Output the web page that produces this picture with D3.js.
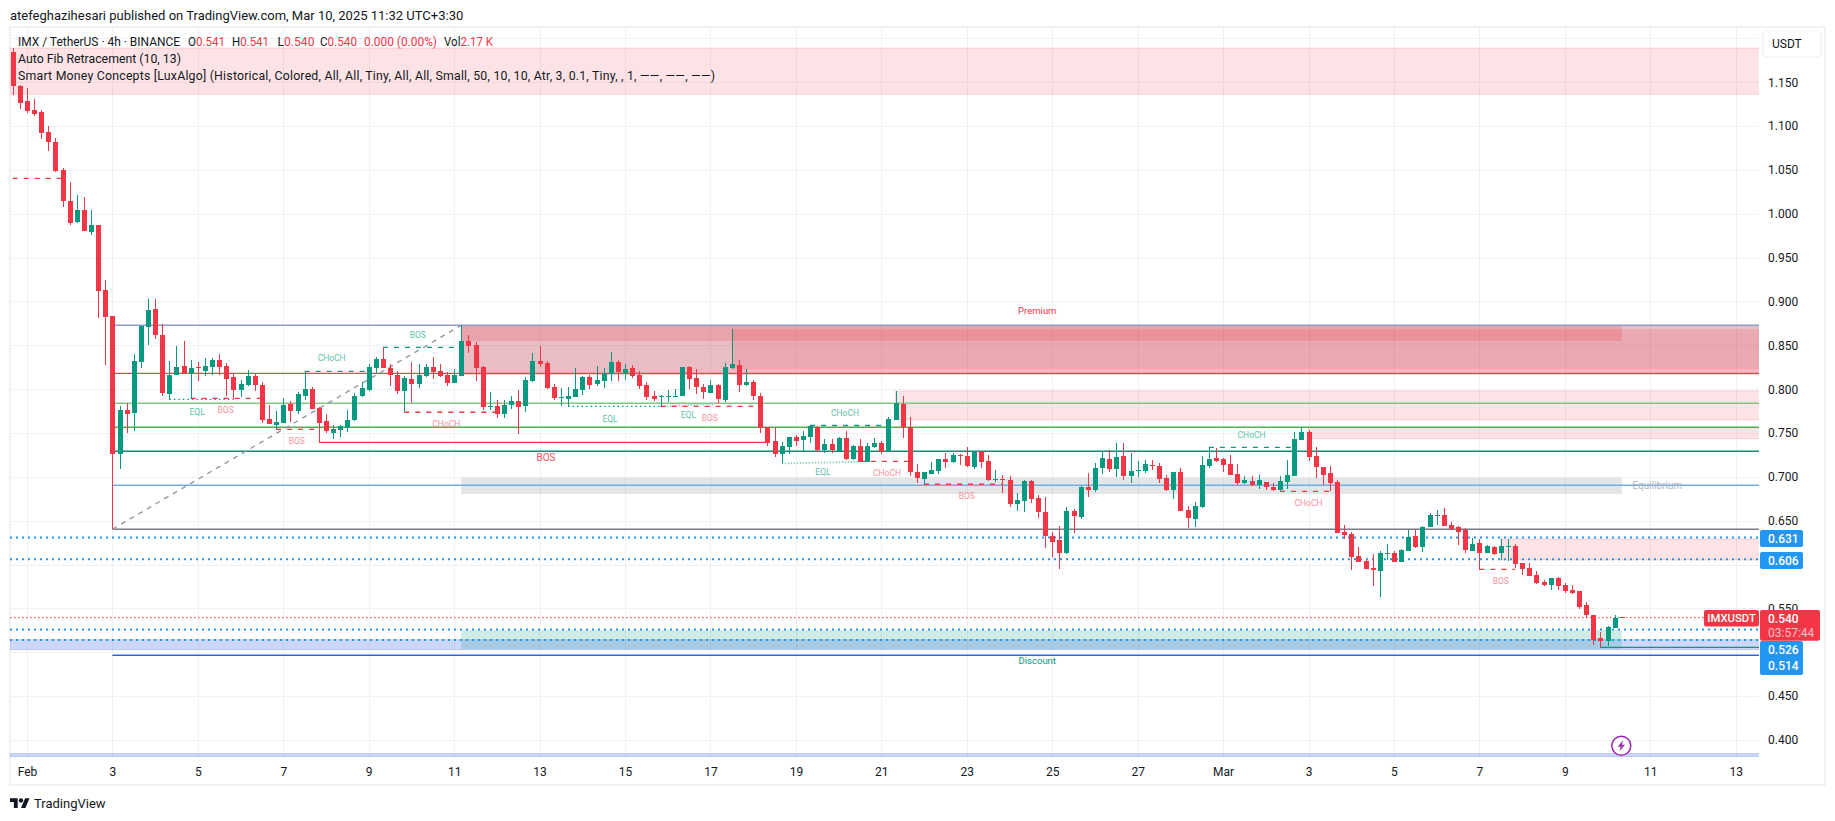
<!DOCTYPE html>
<html><head><meta charset="utf-8">
<style>html,body{margin:0;padding:0;background:#fff;overflow:hidden}svg{display:block;font-family:Roboto,sans-serif}</style>
<script src="https://cdn.jsdelivr.net/npm/d3@7"></script></head><body>
<svg id="c" width="1835" height="821"></svg>
<script>
// ---------- DATA (prices; bar index 0 = first 4h candle) ----------
const opens=[1.1841,1.1458,1.1287,1.1184,1.1161,1.0933,1.0819,1.0500,1.0147,.9911,1.0044,.9797,.9872,.9131,
.8835,.7265,.7763,.7733,.8314,.8713,.8914,.8618,.7945,.8162,.8265,.8181,.8253,.8208,.8253,.8333,.8265,.8139,.7991,.8048,.8151,.8048,.7660,.7592,.7615,.7831,.7752,.7923,.8002,.7786,.7638,.7501,.7535,.7558,.7649,.7923,.7991,.8242,.8344,.8242,.8162,.7980,.8116,.8059,.8151,.8253,.8208,.8162,.8071,.8151,.8550,.8504,.8253,
.7797,.7809,.7717,.7820,.7866,.7809,.8094,.8322,.8299,.8025,.7900,.7888,.7911,.7991,.8139,.8059,.8094,.8173,.8310,.8185,.8242,.8162,.8048,.7923,.7911,.7911,.7911,.7923,.8253,.8128,.8025,.7957,.8048,.7877,.8242,.8276,.8048,.8082,.7923,.7569,.7410,.7261,.7341,.7455,.7421,.7455,.7569,.7307,.7375,.7296,.7444,
.7204,.7353,.7170,.7341,.7387,.7284,.7649,.7831,.7569,.7056,.6976,.7033,.7068,.7204,.7170,.7250,.7239,.7113,.7296,.7182,.6965,.6976,.6965,.6691,.6726,.6954,.6760,.6600,.6327,.6281,.6133,.6612,.6543,.6885,.6851,.7102,.7204,.7090,.7239,.7011,.7068,.7068,.7136,.7125,.6988,.6851,.7056,.6623,.6520,.6657,.7125,.7216,.7204,.7147,
.7033,.6931,.6954,.6908,.6942,.6885,.6851,.6942,.7011,.7421,.7512,.7239,.7113,.7045,.6942,.6372,.6349,.6099,.6042,.5962,.5928,.6121,.6133,.6030,.6156,.6327,.6201,.6429,.6555,.6566,.6452,.6429,.6395,.6156,.6247,.6133,.6201,.6133,.6201,.6213,.6019,.5962,.5882,.5802,.5768,.5848,.5768,.5711,.5700,.5540,.5426,.5164,.5130,.5278,.5405];
const closes=[1.1458,1.1268,1.1176,1.1138,1.0926,1.0823,1.0489,1.0150,.9900,1.0044,.9808,.9873,.9120,.8823,
.7265,.7763,.7717,.8322,.8721,.8903,.8622,.7957,.8162,.8253,.8181,.8242,.8242,.8265,.8333,.8253,.8116,.7991,.8059,.8151,.8048,.7649,.7603,.7626,.7820,.7752,.7945,.8002,.7774,.7615,.7524,.7546,.7581,.7649,.7923,.8014,.8253,.8344,.8242,.8162,.7980,.8128,.8059,.8162,.8253,.8196,.8151,.8071,.8162,.8550,.8493,.8242,.7797,
.7809,.7717,.7820,.7866,.7797,.8105,.8322,.8287,.8014,.7900,.7911,.7923,.8002,.8139,.8048,.8105,.8185,.8310,.8196,.8230,.8151,.8037,.7911,.7888,.7923,.7923,.7923,.8253,.8116,.8025,.7968,.8048,.7888,.8253,.8287,.8048,.8082,.7923,.7558,.7387,.7261,.7353,.7455,.7410,.7467,.7581,.7307,.7375,.7307,.7444,.7204,
.7353,.7170,.7353,.7387,.7284,.7660,.7843,.7569,.7056,.6988,.7056,.7079,.7204,.7170,.7250,.7239,.7125,.7296,.7170,.6965,.6976,.6965,.6691,.6737,.6954,.6748,.6600,.6327,.6258,.6133,.6612,.6555,.6885,.6851,.7102,.7216,.7090,.7227,.7011,.7068,.7079,.7147,.7125,.6976,.6851,.7056,.6612,.6532,.6669,.7136,.7204,.7182,.7136,.7022,
.6931,.6965,.6908,.6965,.6885,.6851,.6954,.7022,.7432,.7512,.7227,.7113,.7022,.6931,.6361,.6338,.6087,.6030,.5950,.5939,.6133,.6133,.6030,.6167,.6315,.6201,.6429,.6566,.6566,.6441,.6406,.6372,.6167,.6235,.6133,.6213,.6121,.6213,.6213,.6007,.5950,.5871,.5791,.5768,.5848,.5757,.5700,.5677,.5517,.5426,.5141,.5130,.5289,.5392,.5395];
const highs=[1.1887,1.1469,1.1431,1.1309,1.1184,1.1002,1.0865,1.0519,1.0363,1.0215,1.0192,1.0044,.9872,.9245,
.8835,.7809,.7839,.8398,.8721,.9028,.9028,.8743,.8322,.8493,.8550,.8333,.8310,.8356,.8356,.8401,.8299,.8173,.8105,.8219,.8173,.8082,.7820,.7752,.7900,.7866,.7968,.8208,.8025,.7797,.7717,.7592,.7592,.7763,.7957,.8082,.8287,.8367,.8481,.8287,.8208,.8151,.8310,.8287,.8287,.8367,.8287,.8196,.8230,.8728,.8618,.8538,.8265,
.7968,.7877,.7877,.7923,.7991,.8139,.8413,.8493,.8322,.8059,.8014,.8025,.8242,.8151,.8162,.8265,.8242,.8424,.8333,.8287,.8276,.8208,.8082,.7980,.7934,.7991,.8002,.8253,.8265,.8230,.8059,.8105,.8059,.8299,.8686,.8333,.8230,.8105,.7957,.7569,.7569,.7398,.7455,.7478,.7524,.7592,.7581,.7432,.7432,.7455,.7524,
.7364,.7432,.7387,.7444,.7410,.7683,.7980,.7923,.7683,.7147,.7056,.7170,.7204,.7273,.7273,.7261,.7341,.7296,.7296,.7250,.7079,.7022,.7011,.6817,.6965,.6965,.6794,.6771,.6372,.6441,.6657,.6634,.6897,.7045,.7159,.7296,.7307,.7387,.7387,.7273,.7182,.7193,.7193,.7159,.7022,.7056,.7102,.6669,.6714,.7239,.7341,.7330,.7216,.7250,
.7147,.7011,.7011,.7022,.6942,.6931,.7011,.7193,.7512,.7569,.7535,.7341,.7113,.7125,.6965,.6452,.6372,.6201,.6053,.6121,.6156,.6235,.6156,.6178,.6395,.6395,.6441,.6589,.6623,.6646,.6486,.6441,.6418,.6304,.6292,.6224,.6213,.6292,.6292,.6235,.6019,.6019,.5928,.5825,.5848,.5859,.5791,.5768,.5700,.5574,.5426,.5232,.5301,.5426,.5405];
const lows=[1.1355,1.1199,1.1146,1.1119,1.0850,1.0720,1.0481,1.0082,.9873,.9900,.9808,.9759,.8812,.8276,
.6403,.7094,.7505,.7527,.8246,.8508,.8576,.7926,.7881,.8162,.8170,.7888,.8094,.8151,.8162,.8162,.7923,.7888,.7911,.8037,.7980,.7615,.7603,.7546,.7615,.7626,.7717,.7877,.7774,.7394,.7501,.7432,.7455,.7512,.7638,.7911,.7980,.8185,.8242,.8037,.7945,.7736,.7843,.8014,.8139,.8116,.8139,.8037,.8071,.8151,.8413,.8094,.7763,
.7763,.7672,.7672,.7774,.7489,.7740,.8082,.8253,.8002,.7877,.7809,.7797,.7911,.7934,.8002,.8037,.8014,.8094,.8094,.8105,.8128,.8002,.7877,.7866,.7809,.7854,.7911,.7923,.8002,.7945,.7888,.7957,.7843,.7854,.8230,.7968,.8037,.7877,.7501,.7353,.7227,.7155,.7261,.7353,.7296,.7387,.7296,.7273,.7273,.7296,.7193,
.7193,.7170,.7170,.7330,.7261,.7284,.7649,.7444,.7011,.6931,.6908,.7033,.7033,.7102,.7159,.7136,.7113,.7090,.7102,.6954,.6942,.6817,.6657,.6612,.6600,.6703,.6532,.6190,.6087,.5950,.6121,.6361,.6520,.6771,.6828,.7033,.7056,.7000,.6965,.6931,.7000,.7045,.7079,.6931,.6840,.6748,.6612,.6418,.6429,.6646,.7102,.7170,.7056,.7022,
.6908,.6919,.6897,.6862,.6851,.6840,.6840,.6862,.7011,.7421,.7182,.6988,.6908,.6840,.6361,.6292,.5939,.6030,.5950,.5757,.5631,.6053,.6030,.6030,.6156,.6190,.6144,.6429,.6452,.6441,.6395,.6224,.6133,.6156,.5939,.6133,.6110,.6053,.6042,.5962,.5882,.5871,.5779,.5757,.5711,.5711,.5677,.5665,.5494,.5392,.5084,.5054,.5073,.5278,.5395];

const gridPrices=[1.2,1.15,1.1,1.05,1,.95,.9,.85,.8,.75,.7,.65,.6,.55,.5,.45,.4];
const priceTicks=[1.15,1.1,1.05,1,.95,.9,.85,.8,.75,.7,.65,.55,.45,.4];
const timeTickBars=d3.range(2,243,12);              // every two days, first one on Feb 1
const timeTickLabels=["Feb","3","5","7","9","11","13","15","17","19","21","23","25","27","Mar","3","5","7","9","11","13"];

// Fib levels drawn from the swing low bar to the right edge
const fibStart=14;
const fibPrices=[.8729,.8181,.7839,.7566,.7292,.6904,.6403,.4966];
// Trend line of the fib tool: [bar, price] pairs
const fibTrend=[[14,.6403],[63,.8729]];

// Zones: [fromBar|null, toBar|null, top, bottom, kind]  (null = pane edge)
const zones=[
 [null,null,1.1890,1.1363,"pink"],
 [63,null,.8729,.8165,"base"],
 [63,226,.8729,.8550,"premium"],
 [101,null,.8684,.8228,"overlay"],
 [124,null,.7979,.7652,"pink"],
 [182,null,.7566,.7437,"pink"],
 [209,null,.6292,.6053,"pink"],
 [63,226,.6991,.6805,"equil"],
 [null,null,.5144,.5030,"blue"],
 [63,226,.5254,.5038,"discount"],
 [null,null,.3845,.3806,"blue"]
];
// Structure lines: [fromBar,toBar,priceFrom,priceTo,kind]
const structure=[
 [0,7,1.0404,1.0404,"rd"],
 [22,31,.7885,.7885,"gdot"],
 [25,35,.7896,.7896,"rd"],
 [37,43,.7543,.7543,"rd"],
 [41,50,.8204,.8204,"gd"],
 [52,63,.8478,.8478,"gd"],
 [55,68,.7737,.7737,"rd"],
 [43,106,.7394,.7394,"rs"],
 [78,91,.7805,.7805,"gdot"],
 [91,98.6,.7805,.7831,"glight"],
 [91,104,.7805,.7805,"rd"],
 [112,123,.7586,.7586,"gd"],
 [108,119.4,.7154,.7173,"glight"],
 [119,126,.7178,.7178,"rd"],
 [128,139,.6916,.6916,"rd"],
 [168,180,.7337,.7337,"gd"],
 [178,185,.6836,.6836,"rd"],
 [206,211,.5946,.5946,"rd"],
 [223,245.3,.5056,.5056,"gs"]
];
// Structure text: [text,bar,price,kind]
const structLabels=[
 ["EQL",25.9,.7744,"g"],["BOS",29.9,.7763,"r"],["BOS",39.9,.7406,"r"],["CHoCH",44.8,.8356,"g"],
 ["BOS",56.9,.8614,"g"],["CHoCH",60.9,.76,"r"],["EQL",83.9,.7664,"g"],["EQL",94.9,.7709,"g"],
 ["BOS",97.9,.7668,"r"],["CHoCH",116.9,.7725,"g"],["EQL",113.8,.7052,"g"],["CHoCH",122.8,.7048,"r"],
 ["BOS",134,.6779,"r"],["CHoCH",174,.7474,"g"],["CHoCH",182,.6699,"r"],["BOS",209,.581,"r"],
 ["BOS",74.9,.7219,"R"],["Premium",143.9,.8898,"P"],["Discount",143.9,.4901,"D"],["Equilibrium",231,.69,"E"]
];
const dottedPrices=[.631,.606,.526,.514];
const lastPrice=closes[closes.length-1];
const headerText="atefeghazihesari published on TradingView.com, Mar 10, 2025 11:32 UTC+3:30";
const legendTitle="IMX / TetherUS · 4h · BINANCE";
const legendOHLC=[["O","0.541"],["H","0.541"],["L","0.540"],["C","0.540"]];
const legendChange="0.000 (0.00%)";
const legendVol="2.17 K";
const legendFib="Auto Fib Retracement (10, 13)";
const legendSMC="Smart Money Concepts [LuxAlgo] (Historical, Colored, All, All, Tiny, All, All, Small, 50, 10, 10, Atr, 3, 0.1, Tiny, , 1, ——, ——, ——)";
const priceTags=[["0.631",.631],["0.606",.606]];
const stackedTags=["0.526","0.514"];

// ---------- LAYOUT ----------
const pane={l:10,r:1759,t:27,b:757};
const x=d3.scaleLinear().domain([0,226]).range([12.7,12.7+226*7.12]);
const y=d3.scaleLinear().domain([.4,1.15]).range([740,82.25]);
const RED="#f23645",GREEN="#089981",BLUE="#2196f3",INK="#131722";
const svg=d3.select("#c");
const defs=svg.append("defs");
defs.append("clipPath").attr("id","pane").append("rect").attr("x",pane.l).attr("y",pane.t).attr("width",pane.r-pane.l).attr("height",pane.b-pane.t);

svg.append("rect").attr("x",10).attr("y",27).attr("width",1815).attr("height",758).attr("fill","#fff").attr("stroke","#f1f2f4").attr("stroke-width",2);

const plot=svg.append("g").attr("clip-path","url(#pane)");

// grid
const grid=plot.append("g").attr("stroke","#f0f1f3").attr("stroke-width",1).attr("shape-rendering","crispEdges");
grid.selectAll(".h").data(gridPrices).join("line").attr("x1",pane.l).attr("x2",pane.r).attr("y1",d=>Math.round(y(d))+.5).attr("y2",d=>Math.round(y(d))+.5);
grid.selectAll(".v").data(timeTickBars).join("line").attr("y1",pane.t).attr("y2",pane.b).attr("x1",d=>Math.round(x(d))+.5).attr("x2",d=>Math.round(x(d))+.5);

// zones
const zoneStyle={
 pink:{f:"rgba(242,54,69,.14)",s:"rgba(242,54,69,.18)"},
 base:{f:"rgba(178,40,60,.3)",s:"none"},
 premium:{f:"rgba(242,54,69,.2)",s:"none"},
 overlay:{f:"rgba(242,54,69,.15)",s:"none"},
 equil:{f:"rgba(120,123,134,.2)",s:"none"},
 discount:{f:"rgba(8,153,129,.2)",s:"none"},
 blue:{f:"rgba(41,84,235,.23)",s:"rgba(41,84,235,.22)"}
};
plot.append("g").selectAll("rect").data(zones).join("rect")
 .attr("x",d=>d[0]===null?pane.l-2:x(d[0]))
 .attr("width",d=>(d[1]===null?pane.r+2:x(d[1]))-(d[0]===null?pane.l-2:x(d[0])))
 .attr("y",d=>y(d[2])).attr("height",d=>y(d[3])-y(d[2]))
 .attr("fill",d=>zoneStyle[d[4]].f).attr("stroke",d=>zoneStyle[d[4]].s);

// fib levels
const fibStyle=[["#8e9cc6",1.4],["#e5484d",1.4],["#81c784",1.4],["#4caf50",1.4],["#12897a",1.5],["#6cb0e6",1.4],["#787b86",1.5],["#2962ff",1.6]];
plot.append("g").selectAll("line").data(fibPrices).join("line")
 .attr("x1",x(fibStart)).attr("x2",pane.r).attr("y1",d=>y(d)).attr("y2",d=>y(d))
 .attr("stroke",(d,i)=>fibStyle[i][0]).attr("stroke-width",(d,i)=>fibStyle[i][1]);
plot.append("line").attr("x1",x(fibTrend[0][0])).attr("y1",y(fibTrend[0][1])).attr("x2",x(fibTrend[1][0])).attr("y2",y(fibTrend[1][1]))
 .attr("stroke","#9598a1").attr("stroke-width",1.4).attr("stroke-dasharray","5 5");

// dotted levels
plot.append("g").selectAll("line").data(dottedPrices).join("line").attr("x1",pane.l).attr("x2",pane.r)
 .attr("y1",d=>y(d)).attr("y2",d=>y(d)).attr("stroke",BLUE).attr("stroke-width",2).attr("stroke-dasharray","2 4");
plot.append("line").attr("x1",pane.l).attr("x2",1704).attr("y1",y(lastPrice)).attr("y2",y(lastPrice))
 .attr("stroke",RED).attr("stroke-width",1).attr("stroke-dasharray","1.5 2.5");

// structure lines
const lineStyle={
 rd:{c:RED,w:1.3,d:"5 6"},gd:{c:GREEN,w:1.3,d:"5 6"},rs:{c:RED,w:1.4,d:null},gs:{c:GREEN,w:1.4,d:null},
 gdot:{c:GREEN,w:1.3,d:"1.5 3"},glight:{c:"#8fd3c6",w:1.8,d:"1.5 1.5"}
};
plot.append("g").selectAll("line").data(structure).join("line")
 .attr("x1",d=>x(d[0])).attr("x2",d=>x(d[1])).attr("y1",d=>y(d[2])).attr("y2",d=>y(d[3]))
 .attr("stroke",d=>lineStyle[d[4]].c).attr("stroke-width",d=>lineStyle[d[4]].w).attr("stroke-dasharray",d=>lineStyle[d[4]].d);

// candles
const bars=d3.range(opens.length);
const cg=plot.append("g").attr("shape-rendering","crispEdges");
const col=i=>closes[i]>=opens[i]?GREEN:RED;
cg.selectAll(".w").data(bars).join("line")
 .attr("x1",i=>Math.round(x(i))+.5).attr("x2",i=>Math.round(x(i))+.5)
 .attr("y1",i=>y(highs[i])).attr("y2",i=>y(lows[i])).attr("stroke",col).attr("stroke-width",1);
cg.selectAll(".b").data(bars).join("rect")
 .attr("x",i=>Math.round(x(i))-2).attr("width",5)
 .attr("y",i=>y(Math.max(opens[i],closes[i])))
 .attr("height",i=>Math.max(1,Math.abs(y(opens[i])-y(closes[i]))))
 .attr("fill",col);

// structure text
const labelStyle={g:{c:"#5fbfac",s:8.5},r:{c:"#f9929b",s:8.5},R:{c:"#f6525f",s:10},P:{c:RED,s:9.5},D:{c:GREEN,s:9.5},E:{c:"#b2b5be",s:10}};
plot.append("g").selectAll("text").data(structLabels).join("text")
 .attr("x",d=>x(d[1])).attr("y",d=>y(d[2])).attr("text-anchor","middle").attr("dominant-baseline","central")
 .attr("fill",d=>labelStyle[d[3]].c).attr("font-size",d=>labelStyle[d[3]].s).text(d=>d[0]);

// lightning badge
const bolt=svg.append("g").attr("transform","translate(1621.3,745.7)");
bolt.append("circle").attr("r",9.5).attr("fill","#fff").attr("stroke","#9c27b0").attr("stroke-width",1.5);
bolt.append("path").attr("d","M1.8-5.5L-3.6,1H-.6L-1.8,5.5L3.6-1H.6Z").attr("fill","#9c27b0");

// axes
const yAxis=d3.axisRight(y).tickValues(priceTicks).tickFormat(d3.format(".3f")).tickSize(0).tickPadding(0);
const ya=svg.append("g").attr("transform",`translate(1768,0)`).call(yAxis);
ya.select(".domain").remove();
ya.selectAll("text").attr("font-family","Roboto").attr("font-size",12).attr("fill",INK).attr("x",0);
const xAxis=d3.axisBottom(x).tickValues(timeTickBars).tickFormat((d,i)=>timeTickLabels[i]).tickSize(0).tickPadding(0);
const xa=svg.append("g").attr("transform",`translate(0,767)`).call(xAxis);
xa.select(".domain").remove();
xa.selectAll("text").attr("font-family","Roboto").attr("font-size",12).attr("fill",INK);

// USDT button
svg.append("rect").attr("x",1763).attr("y",31).attr("width",58).attr("height",26).attr("rx",5).attr("fill","#fff").attr("stroke","#f0f1f3").attr("stroke-width",1.2);
svg.append("text").attr("x",1772).attr("y",44).attr("dominant-baseline","central").attr("font-size",12).attr("fill",INK).text("USDT");

// price tags
priceTags.forEach(t=>{
 const cy=y(t[1])+1.2;
 svg.append("rect").attr("x",1760).attr("y",cy-8.5).attr("width",43).attr("height",17).attr("rx",2).attr("fill",BLUE);
 svg.append("text").attr("x",1768).attr("y",cy).attr("dominant-baseline","central").attr("font-size",12).attr("font-weight",500).attr("fill","#fff").text(t[0]);
});
svg.append("rect").attr("x",1760).attr("y",641).attr("width",43).attr("height",34).attr("rx",2).attr("fill",BLUE);
stackedTags.forEach((t,i)=>svg.append("text").attr("x",1768).attr("y",650+i*16.3).attr("dominant-baseline","central").attr("font-size",12).attr("font-weight",500).attr("fill","#fff").text(t));
svg.append("rect").attr("x",1704).attr("y",610).attr("width",55).attr("height",16.5).attr("rx",2).attr("fill",RED);
svg.append("text").attr("x",1731.5).attr("y",618.5).attr("text-anchor","middle").attr("dominant-baseline","central").attr("font-size",11.3).attr("font-weight",500).attr("fill","#fff").text("IMXUSDT");
svg.append("rect").attr("x",1760).attr("y",610).attr("width",60).attr("height",30.7).attr("rx",2).attr("fill",RED);
svg.append("text").attr("x",1768).attr("y",618.5).attr("dominant-baseline","central").attr("font-size",12).attr("font-weight",500).attr("fill","#fff").text("0.540");
svg.append("text").attr("x",1768).attr("y",632.7).attr("dominant-baseline","central").attr("font-size",12).attr("fill","#fbc1c6").text("03:57:44");

// header + legend
svg.append("text").attr("x",10).attr("y",15).attr("dominant-baseline","central").attr("font-size",13).attr("fill",INK).text(headerText);
const lg=svg.append("g").attr("font-size",12.3).attr("fill",INK);
const row1=lg.append("g").attr("font-size",11.9);
row1.append("text").attr("x",18).attr("y",42).attr("dominant-baseline","central").attr("textLength",162).attr("lengthAdjust","spacingAndGlyphs").text(legendTitle);
const ohlcX=[188,232,277.5,320];
legendOHLC.forEach((d,i)=>{
 const t=row1.append("text").attr("x",ohlcX[i]).attr("y",42).attr("dominant-baseline","central").attr("textLength",37).attr("lengthAdjust","spacingAndGlyphs");
 t.append("tspan").text(d[0]);
 t.append("tspan").attr("fill",RED).text(d[1]);
});
row1.append("text").attr("x",364).attr("y",42).attr("dominant-baseline","central").attr("fill",RED).attr("textLength",73).attr("lengthAdjust","spacingAndGlyphs").text(legendChange);
const vt=row1.append("text").attr("x",444).attr("y",42).attr("dominant-baseline","central").attr("textLength",49).attr("lengthAdjust","spacingAndGlyphs");
vt.append("tspan").text("Vol");vt.append("tspan").attr("fill",RED).text(legendVol);
lg.append("text").attr("x",18).attr("y",59).attr("dominant-baseline","central").text(legendFib);
lg.append("text").attr("x",18).attr("y",76).attr("dominant-baseline","central").attr("textLength",697).attr("lengthAdjust","spacing").text(legendSMC);

// logo
const logo=svg.append("g").attr("transform","translate(10,796) scale(.55)").attr("fill",INK);
logo.append("path").attr("d","M14 22H7V11H0V4h14v18zM28 22h-8l7.5-18h8L28 22z");
logo.append("circle").attr("cx",20).attr("cy",8).attr("r",4);
svg.append("text").attr("x",34).attr("y",803).attr("dominant-baseline","central").attr("font-size",13).attr("fill",INK).text("TradingView");
</script></body></html>
